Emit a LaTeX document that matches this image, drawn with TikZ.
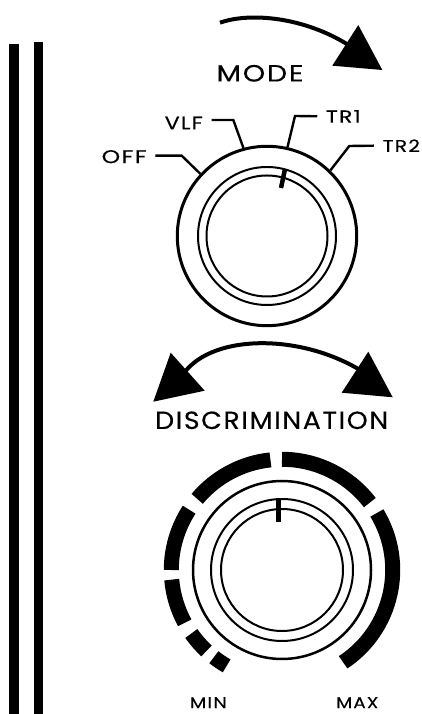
\documentclass[tikz,border=0pt]{standalone}
\usepackage{fontspec}
\setmainfont{Poppins}[LetterSpace=6,FakeBold=0.3]
\usetikzlibrary{calc}
\newcommand{\fitlabel}[3]{\resizebox{#1pt}{#2pt}{#3}}
\tikzset{
  bar/.style      = {line width=9.5pt},
  ring/.style     = {circle, draw, line width=2pt, inner sep=0pt},
  outer ring/.style = {ring, line width=3pt},
  leader/.style   = {line width=2.4pt, miter limit=10},
  swing/.style    = {line width=4pt},
  head/.style     = {fill=black, draw=none},
  band/.style     = {line width=15pt},
  marker/.style   = {line width=4.5pt},
  smalllabel/.style = {inner sep=8.5pt},
  plainlabel/.style = {inner sep=0pt},
}
\begin{document}
\begin{tikzpicture}[x=1pt,y=1pt]
  \useasboundingbox (0,0) rectangle (422,714);
  % ---- panel edge ---------------------------------------------------------
  \draw[bar] (14,670) coordinate (edgeA) -- (14,0);
  \draw[bar] (38.3,672) coordinate (edgeB) -- (38.3,0);

  % ---- mode knob ----------------------------------------------------------
  \node[outer ring, minimum size=179.4pt] (modeOuter) at (267,478) {};
  \node[ring, minimum size=138pt] (modeMid) at (modeOuter) {};
  \node[ring, minimum size=121pt] (modeInner) at (modeOuter) {};
  \draw[marker] (285,545) coordinate (modeTip) -- (281,526);

  \draw[swing] (220,691.3) .. controls (250,702) and (305,697) .. (350,668);
  \fill[head] (358.3,689) -- (382.3,644) -- (332.3,648.3) -- cycle;
  \node[plainlabel] (mode) at (260,640.7) {\fitlabel{87}{16.5}{MODE}};

  \node[smalllabel] (off) at (124.2,557.3) {\fitlabel{45}{13}{OFF}};
  \node[smalllabel] (vlf) at (183.8,591) {\fitlabel{38}{12.5}{VLF}};
  \node[smalllabel] (tr1) at (343.3,597.7) {\fitlabel{34.7}{12.5}{TR1}};
  \node[smalllabel] (tr2) at (401.3,568.3) {\fitlabel{37.3}{12.5}{TR2}};
  \draw[leader] ([yshift=1pt]off.east) -- (181.7,558.3) -- (modeOuter.137);
  \draw[leader] ([yshift=3pt]vlf.east) -- (233.3,594) -- (modeOuter.105.7);
  \draw[leader] (tr1.west) -- (295,598) -- (modeOuter.77.3);
  \draw[leader] (tr2.west) -- (349.3,568) -- (modeOuter.46.3);

  % ---- discrimination knob ------------------------------------------------
  \node[outer ring, line width=2.5pt, minimum size=178pt] (discOuter) at (282,144) {};
  \node[ring, minimum size=142pt] (discMid) at (discOuter) {};
  \node[ring, minimum size=122pt] (discInner) at (discOuter) {};
  \draw[marker, line width=5pt] (278,214) coordinate (discTip) -- (278,192);

  \foreach \from/\to in {90/37.5, 31/-56.5, 96/140, 147/180, 185/208.5, 215/227, 232/240}
    \draw[band] ($(discOuter)+(\from:110.7)$) arc[start angle=\from, end angle=\to, radius=110.7pt];

  \draw[swing] (185,342.3) .. controls (215,380) and (300,380) .. (360,344);
  \fill[head] (170.7,361.3) -- (204.7,323.3) -- (153.3,312.3) -- cycle;
  \fill[head] (368.3,362.3) -- (392.7,316.7) -- (341.7,321.3) -- cycle;
  \node[plainlabel] (disc) at (271.7,293.7) {\fitlabel{233}{17.5}{DISCRIMINATION}};

  \node[plainlabel] (min) at (208.3,11.3) {\fitlabel{37}{11}{MIN}};
  \node[plainlabel] (max) at (357.3,11.3) {\fitlabel{42}{11}{MAX}};
\end{tikzpicture}
\end{document}
